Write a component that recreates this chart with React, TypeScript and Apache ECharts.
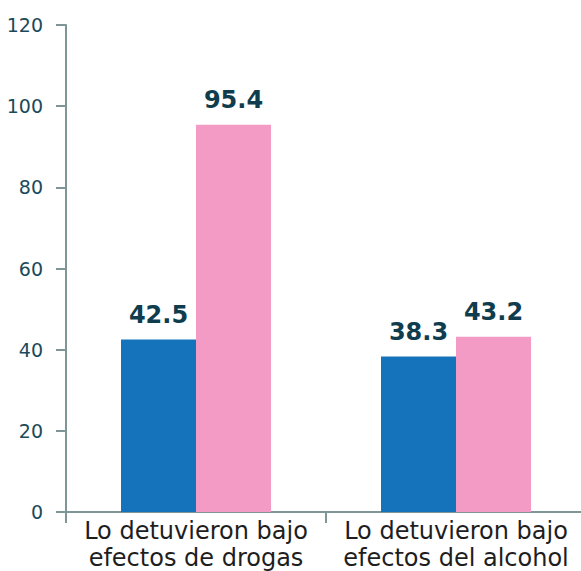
import React, { useEffect, useRef } from "react";
import * as echarts from "echarts";

const categories = ["Lo detuvieron bajo\nefectos de drogas", "Lo detuvieron bajo\nefectos del alcohol"];
const blueValues = [42.5, 38.3];
const pinkValues = [95.4, 43.2];
const yTicks = { min: 0, max: 120, interval: 20 };

const AXIS_COLOR = "#7E9696";
const FONT = "'DejaVu Sans', sans-serif";

export default function App() {
  const ref = useRef<HTMLDivElement>(null);

  useEffect(() => {
    if (!ref.current) return;
    const chart = echarts.init(ref.current, undefined, { renderer: "svg" });
    const valueLabel = {
      show: true,
      position: "top" as const,
      distance: 13,
      color: "#0F3D4E",
      fontFamily: FONT,
      fontWeight: "bold" as const,
      fontSize: 24,
    };
    chart.setOption({
      animation: false,
      grid: { left: 66, top: 25, width: 520, bottom: 58, containLabel: false },
      xAxis: {
        type: "category",
        data: categories,
        axisLine: { show: true, lineStyle: { color: AXIS_COLOR, width: 2 } },
        axisTick: { show: true, length: 11, lineStyle: { color: AXIS_COLOR, width: 2 } },
        axisLabel: {
          color: "#1E1E1E",
          fontFamily: FONT,
          fontSize: 24,
          lineHeight: 27,
          margin: 5,
          interval: 0,
        },
      },
      yAxis: {
        type: "value",
        min: yTicks.min,
        max: yTicks.max,
        interval: yTicks.interval,
        axisLine: { show: true, lineStyle: { color: AXIS_COLOR, width: 2 } },
        axisTick: { show: true, length: 10, lineStyle: { color: AXIS_COLOR, width: 2 } },
        splitLine: { show: false },
        axisLabel: {
          color: "#1B4A5A",
          fontFamily: FONT,
          fontSize: 19,
          margin: 23,
        },
      },
      series: [
        {
          type: "bar",
          data: blueValues,
          barWidth: 75,
          barGap: "0%",
          itemStyle: { color: "#1473BA" },
          label: valueLabel,
        },
        {
          type: "bar",
          data: pinkValues,
          barWidth: 75,
          barGap: "0%",
          itemStyle: { color: "#F39BC4" },
          label: valueLabel,
        },
      ],
    });
    return () => chart.dispose();
  }, []);

  return (
    <div
      style={{
        position: "fixed",
        left: 0,
        top: 0,
        width: 581,
        height: 571,
        overflow: "hidden",
        background: "#fff",
      }}
    >
      <div ref={ref} style={{ width: 600, height: 571 }} />
    </div>
  );
}
